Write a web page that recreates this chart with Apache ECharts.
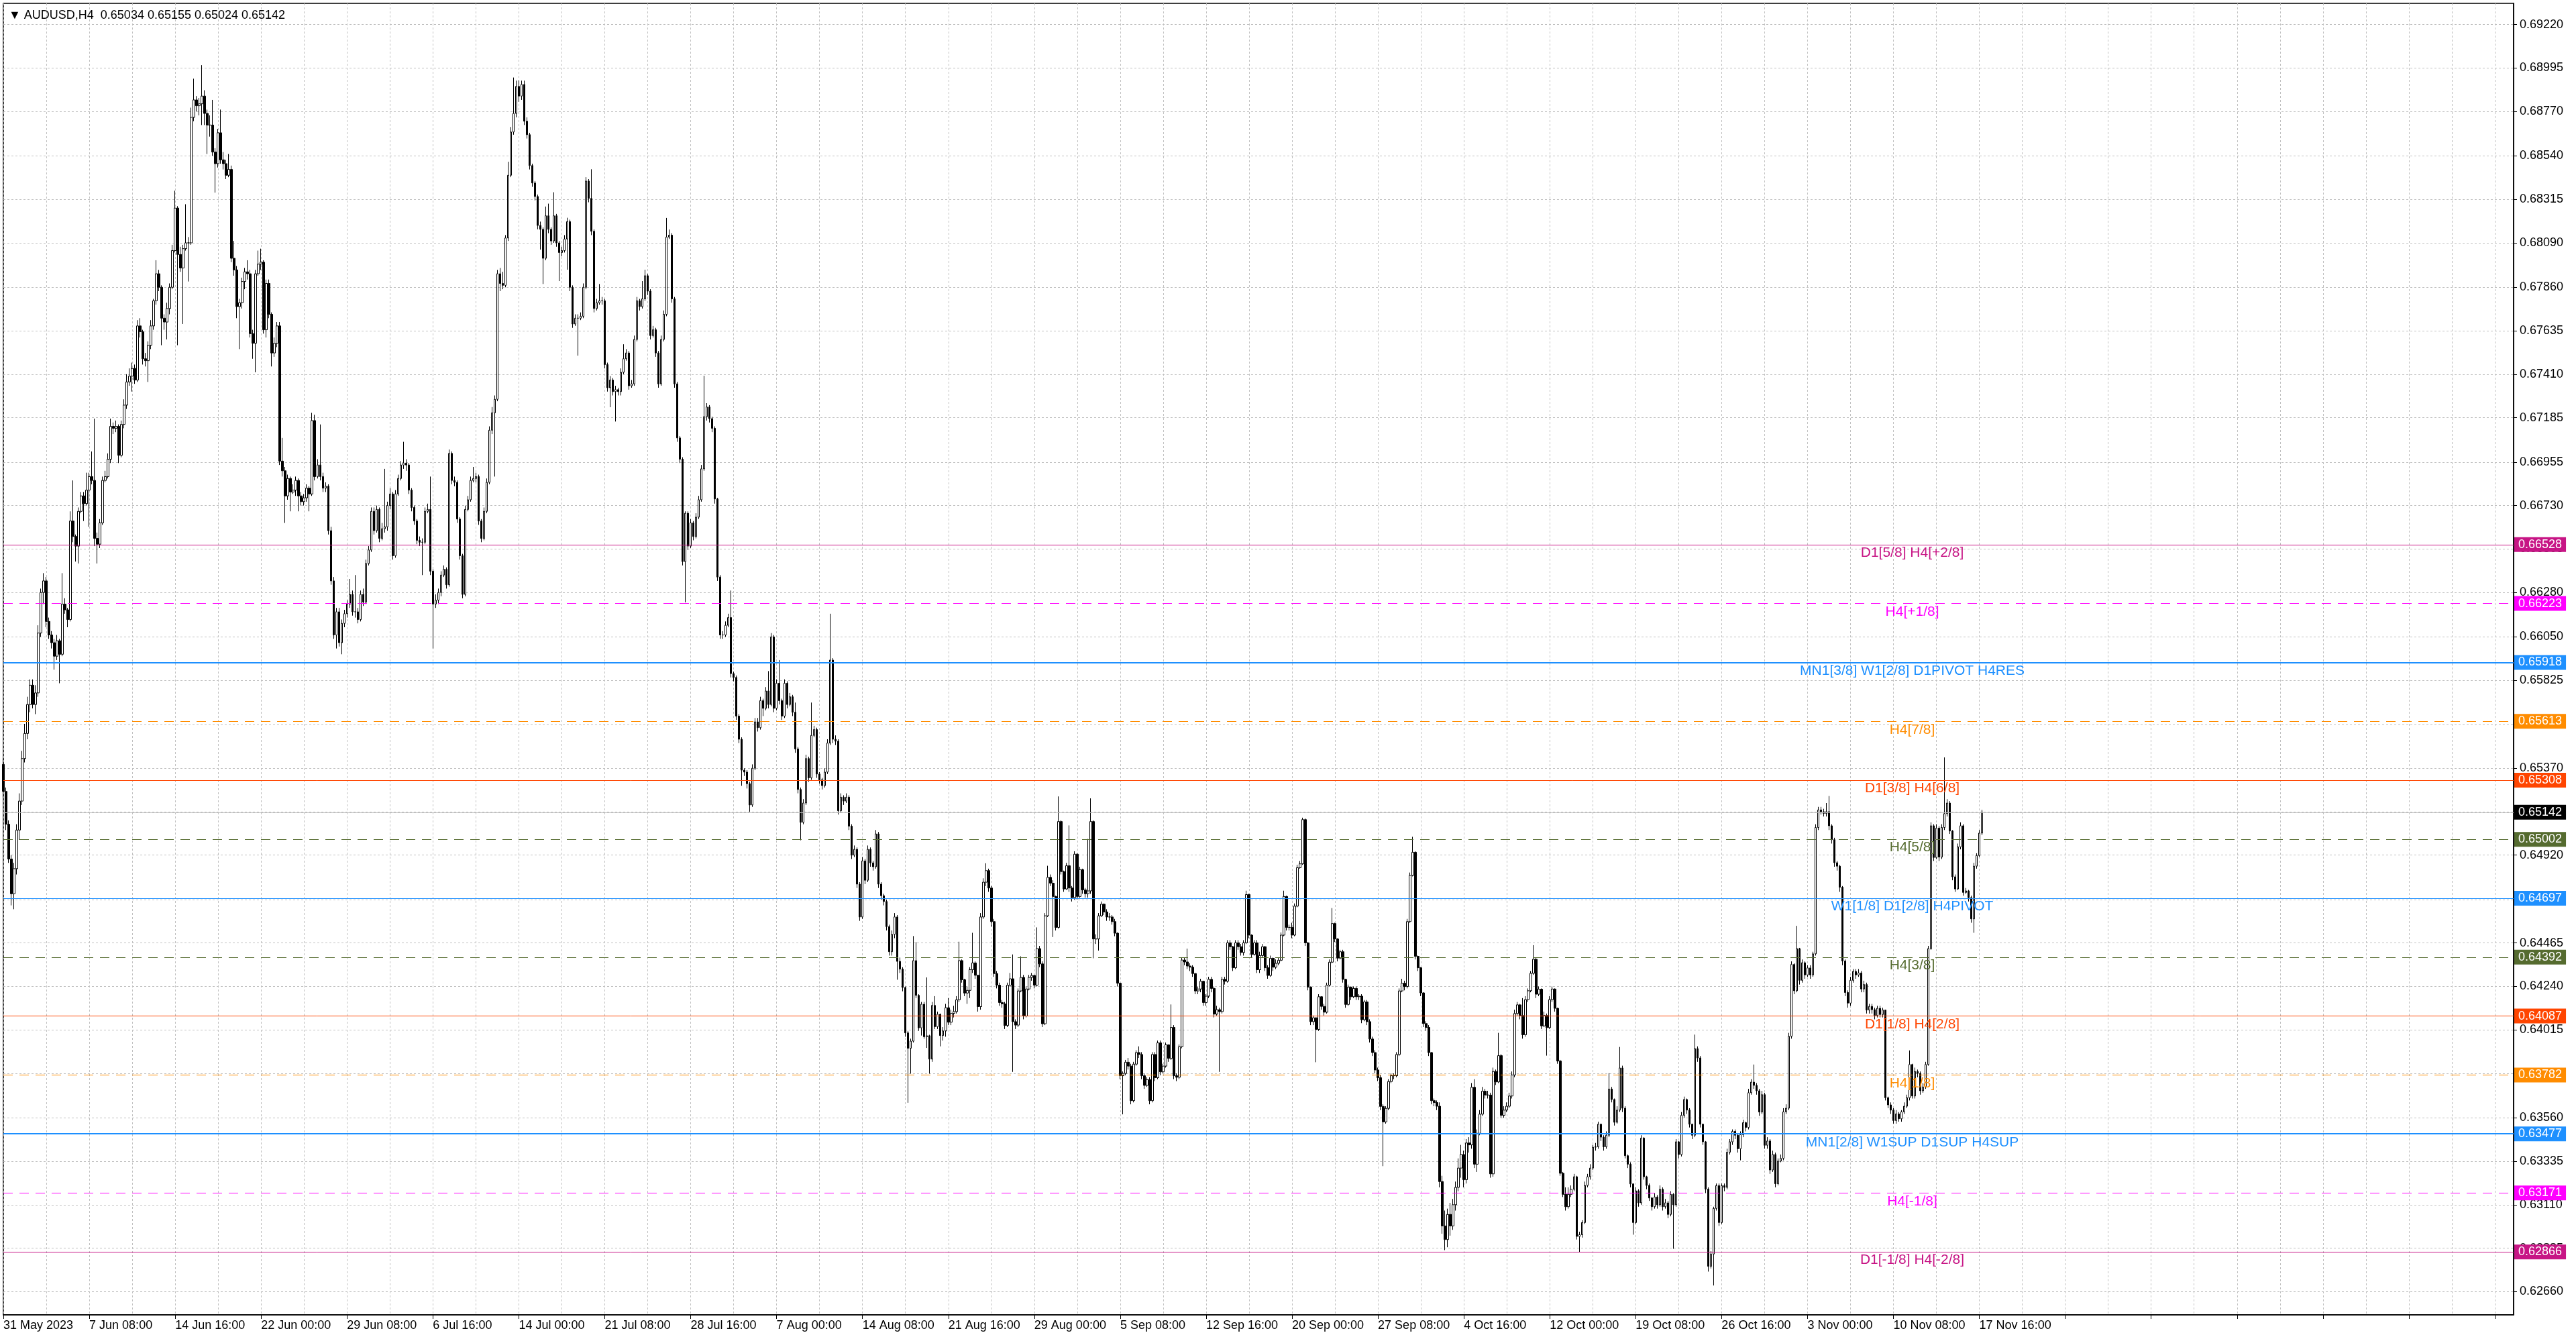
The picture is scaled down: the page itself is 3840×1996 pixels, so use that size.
<!DOCTYPE html>
<html>
<head>
<meta charset="utf-8">
<title>AUDUSD,H4</title>
<script src="https://cdn.jsdelivr.net/npm/echarts@6/dist/echarts.min.js"></script>
<style>
  html, body { margin: 0; padding: 0; background: #fff; }
  #chart { width: 3840px; height: 1996px; }
</style>
</head>
<body>
<div id="chart"></div>
<script>
// H4 bars, four numbers per bar: open, close, low, high
// each number n stands for the price 0.6 + n / 100000
var barsMay = [
  5390,5250,5220,5420, 5250,5080,5050,5270, 5080,4900,4880,5100, 4900,4720,4660,4920, 4720,4850,4640,4880, 4850,5050,4820,5080
];
var barsJun = [
  5050,5200,5000,5240, 5200,5420,5180,5460, 5420,5550,5400,5600, 5550,5700,5520,5740, 5700,5800,5660,5830, 5800,5700,5680,5830,
  5700,5760,5650,5800, 5760,6070,5740,6110, 6070,6280,6050,6300, 6280,6340,6220,6380, 6340,6130,6100,6360, 6130,6060,6040,6150,
  6060,6020,5990,6080, 6020,5950,5880,6040, 5950,6030,5930,6060, 6030,5960,5810,6040, 5960,6220,5950,6380, 6220,6190,6170,6250,
  6190,6140,6100,6200, 6140,6650,6130,6700, 6650,6570,6540,6860, 6570,6520,6440,6580, 6520,6700,6430,6720, 6700,6780,6690,6800,
  6780,6740,6650,6800, 6740,6810,6730,6900, 6810,6880,6620,6900, 6880,6860,6840,7010, 6860,6560,6520,7180, 6560,6530,6430,6590,
  6530,6640,6510,6660, 6640,6860,6630,6880, 6860,6880,6850,6910, 6880,6970,6870,7000, 6970,7140,6950,7180, 7140,7130,7100,7160,
  7130,7140,7110,7170, 7140,6990,6950,7150, 6990,7150,6980,7170, 7150,7250,7130,7280, 7250,7370,7230,7410, 7370,7400,7350,7440,
  7400,7440,7320,7470, 7440,7380,7360,7460, 7380,7660,7370,7690, 7660,7630,7600,7700, 7630,7490,7460,7640, 7490,7480,7450,7520,
  7480,7560,7370,7580, 7560,7660,7540,7690, 7660,7790,7640,7800, 7790,7930,7770,8000, 7930,7860,7840,7950, 7860,7700,7560,7870,
  7700,7680,7640,7720, 7680,7750,7590,7780, 7750,7860,7720,7880, 7860,8050,7850,8080, 8050,8270,8040,8360, 8270,8030,7560,8280,
  8030,7960,7940,8070, 7960,8060,7670,8080, 8060,8090,8050,8290, 8090,8090,7890,8120, 8090,8740,8080,8790, 8740,8830,8720,8940,
  8830,8800,8770,8850, 8800,8810,8750,8840, 8810,8850,8700,9010, 8850,8760,8700,8880, 8760,8700,8550,8780, 8700,8700,8640,8750,
  8700,8560,8540,8830, 8560,8500,8350,8580, 8500,8660,8480,8680, 8660,8520,8500,8780, 8520,8500,8470,8560, 8500,8440,8420,8520,
  8440,8470,8430,8550, 8470,8010,7990,8490, 8010,7950,7920,8100, 7950,7760,7700,7970, 7760,7780,7540,7800, 7780,7890,7750,7910,
  7890,7940,7850,7960, 7940,7930,7900,8000, 7930,7620,7600,7950, 7620,7570,7490,7640, 7570,7930,7420,7950, 7930,7980,7920,8050,
  7980,7990,7950,8060, 7990,7640,7620,8000, 7640,7880,7600,7900, 7880,7720,7700,7900, 7720,7520,7450,7730, 7520,7570,7500,7600,
  7570,7660,7550,7680, 7660,6960,6940,7680, 6960,6910,6880,7080, 6910,6780,6640,6930, 6780,6870,6760,6890, 6870,6800,6700,6880,
  6800,6810,6790,6840, 6810,6860,6780,6880, 6860,6780,6700,6870, 6780,6750,6730,6800, 6750,6770,6730,6790, 6770,6820,6750,6840,
  6820,6790,6700,6830, 6790,7170,6780,7210, 7170,6880,6860,7200, 6880,6940,6870,6970, 6940,6880,6860,7150, 6880,6820,6800,6900,
  6820,6830,6800,6850, 6830,6600,6580,6840, 6600,6340,6320,6620, 6340,6060,6040,6360, 6060,6180,5990,6200, 6180,6020,6000,6200,
  6020,6120,5960,6140, 6120,6170,6100,6190, 6170,6220,6150,6240, 6220,6270,6200,6350, 6270,6180,6160,6290, 6180,6180,6150,6370,
  6180,6140,6120,6200, 6140,6270,6130,6290, 6270,6230,6210,6300, 6230,6430,6220,6450, 6430,6500,6420,6520, 6500,6700,6490,6720
];
var barsJul = [
  6700,6600,6580,6720, 6600,6710,6590,6730, 6710,6560,6540,6720, 6560,6610,6550,6640, 6610,6620,6590,6920, 6620,6730,6600,6750,
  6730,6790,6710,6820, 6790,6470,6450,6800, 6470,6790,6460,6810, 6790,6870,6780,6890, 6870,6940,6860,6960, 6940,6950,6920,7060,
  6950,6940,6910,6970, 6940,6810,6790,6950, 6810,6720,6700,6820, 6720,6650,6630,6730, 6650,6550,6530,6660, 6550,6540,6520,6570,
  6540,6540,6370,6560, 6540,6700,6530,6720, 6700,6710,6690,6740, 6710,6390,6370,6880, 6390,6220,5990,6400, 6220,6240,6200,6270,
  6240,6280,6220,6300, 6280,6370,6260,6390, 6370,6400,6360,6420, 6400,6320,6300,6410, 6320,7000,6310,7020, 7000,6860,6840,7010,
  6860,6850,6830,6880, 6850,6660,6640,6860, 6660,6470,6450,6670, 6470,6270,6250,6480, 6270,6710,6260,6730, 6710,6760,6700,6780,
  6760,6860,6750,6880, 6860,6870,6850,6930, 6870,6880,6850,6900, 6880,6650,6630,6890, 6650,6560,6540,6660, 6560,6700,6550,6720,
  6700,6850,6690,6870, 6850,7120,6840,7140, 7120,7210,7100,7240, 7210,7280,6880,7300, 7280,7930,7270,7950, 7930,7880,7840,7960,
  7880,7870,7850,7940, 7870,8115,7860,8130, 8115,8440,8100,8510, 8440,8664,8430,8690, 8664,8760,8650,8946, 8760,8900,8740,8930,
  8900,8850,8820,8931, 8850,8910,8830,8930, 8910,8720,8700,8930, 8720,8650,8630,8740, 8650,8490,8470,8660, 8490,8400,8380,8500,
  8400,8330,8310,8410, 8330,8180,8160,8340, 8180,8160,8055,8200, 8160,8010,7877,8170, 8010,8230,8000,8278, 8230,8160,8140,8293,
  8160,8100,8080,8170, 8100,8230,8090,8352, 8230,8090,8070,8240, 8090,8040,7892,8100, 8040,8050,8020,8070, 8050,8110,8040,8130,
  8110,8200,7951,8220, 8200,7860,7840,8210, 7860,7670,7650,7870, 7670,7700,7660,7720, 7700,7700,7506,7720, 7700,7710,7690,7730,
  7710,7860,7700,7880, 7860,8410,7850,8430, 8410,8320,8300,8420, 8320,8150,8130,8471, 8150,7750,7730,8160, 7750,7780,7740,7800,
  7780,7790,7770,7877, 7790,7790,7770,7810, 7790,7460,7440,7800, 7460,7340,7320,7470, 7340,7380,7239,7400, 7380,7320,7300,7390,
  7320,7330,7165,7350, 7330,7320,7300,7340, 7320,7420,7300,7440, 7420,7490,7410,7565, 7490,7520,7480,7540, 7520,7350,7330,7530,
  7350,7360,7340,7380, 7360,7590,7350,7610, 7590,7790,7580,7810, 7790,7760,7740,7800, 7760,7800,7750,7892, 7800,7920,7790,7951,
  7920,7840,7820,7930, 7840,7610,7590,7850, 7610,7640,7600,7660, 7640,7520,7500,7650, 7520,7360,7340,7530, 7360,7590,7350,7610,
  7590,7720,7580,7740, 7720,8120,7710,8219, 8120,8130,8110,8159, 8130,7800,7780,8140, 7800,7360,7340,7810, 7360,7080,7060,7370,
  7080,6970,6950,7090, 6970,6440,6420,6980, 6440,6690,6229,6700, 6690,6520,6500,6700, 6520,6640,6510,6660, 6640,6570,6550,6650,
  6570,6670,6560,6690, 6670,6760,6660,6780, 6760,6920,6750,6940, 6920,7190,6910,7402, 7190,7240,7170,7260, 7240,7180,7160,7250
];
var barsAug = [
  7180,7130,7110,7190, 7130,6764,6740,7140, 6764,6360,6340,6770, 6360,6060,6040,6370, 6060,6060,6040,6080, 6060,6110,6050,6130,
  6110,6150,6100,6170, 6150,5860,5840,6290, 5860,5840,5820,5870, 5840,5640,5620,5850, 5640,5520,5500,5650, 5520,5360,5279,5530,
  5360,5350,5330,5370, 5350,5290,5265,5360, 5290,5180,5145,5300, 5180,5370,5170,5390, 5370,5610,5360,5630, 5610,5580,5560,5630,
  5580,5720,5570,5740, 5720,5680,5640,5730, 5680,5770,5670,5790, 5770,5700,5680,5873, 5700,6050,5690,6070, 6050,5680,5660,6060,
  5680,5810,5670,5830, 5810,5720,5700,5930, 5720,5640,5620,5730, 5640,5810,5630,5830, 5810,5700,5680,5820, 5700,5740,5690,5760,
  5740,5660,5640,5750, 5660,5470,5450,5710, 5470,5260,5240,5480, 5260,5090,4997,5270, 5090,5190,5080,5210, 5190,5420,5180,5440,
  5420,5320,5300,5430, 5320,5540,5310,5710, 5540,5570,5530,5590, 5570,5340,5320,5580, 5340,5310,5290,5350, 5310,5280,5260,5320,
  5280,5350,5270,5370, 5350,5500,5340,5520, 5500,5930,5490,6170, 5930,5520,5500,5940, 5520,5510,5490,5540, 5510,5150,5130,5520,
  5150,5220,5140,5240, 5220,5200,5180,5230, 5200,5220,5190,5240, 5220,5070,5050,5230, 5070,4920,4900,5080, 4920,4950,4910,4970,
  4950,4770,4750,4960, 4770,4600,4580,4780, 4600,4890,4590,4910, 4890,4790,4770,4900, 4790,4950,4780,4970, 4950,4880,4860,4960,
  4880,4860,4840,4890, 4860,5030,4850,5050, 5030,4770,4750,5040, 4770,4710,4690,4780, 4710,4680,4660,4720, 4680,4550,4530,4690,
  4550,4420,4400,4560, 4420,4510,4400,4530, 4510,4600,4490,4620, 4600,4370,4275,4610, 4370,4330,4310,4390, 4330,4235,4215,4340,
  4235,4000,3980,4240, 4000,3920,3638,4010, 3920,3957,3789,3970, 3957,4374,3950,4501, 4374,4194,4180,4470, 4194,4026,4010,4200,
  4026,4148,3986,4160, 4148,3980,3970,4160, 3980,3985,3922,4287, 3985,3864,3789,3990, 3864,4142,3850,4160, 4142,4032,4020,4190,
  4032,4096,4020,4110, 4096,3986,3930,4100, 3986,4010,3960,4030, 4010,4130,3980,4150, 4130,4055,4040,4180, 4055,4101,4040,4120,
  4101,4110,4080,4140, 4110,4171,4100,4190, 4171,4374,4160,4472, 4374,4275,4260,4380, 4275,4206,4190,4280, 4206,4220,4150,4240,
  4220,4327,4180,4340, 4327,4362,4310,4518, 4362,4298,4280,4370, 4298,4136,4110,4300, 4136,4600,4120,4620, 4600,4780,4590,4800,
  4780,4840,4760,4878, 4840,4750,4730,4850, 4750,4576,4550,4760, 4576,4307,4290,4590, 4307,4247,4230,4320, 4247,4157,4140,4260,
  4157,4150,4130,4170, 4150,4038,4020,4160, 4038,4247,4030,4260, 4247,4280,4240,4310, 4280,4058,3798,4406, 4058,4040,4020,4070,
  4040,4217,4030,4230, 4217,4287,4210,4396, 4287,4087,4070,4300, 4087,4227,4080,4240, 4227,4287,4220,4300, 4287,4297,4270,4310,
  4297,4247,4230,4300, 4247,4436,4240,4546, 4436,4357,4340,4450, 4357,4047,4030,4370, 4047,4606,4040,4620, 4606,4805,4600,4865,
  4805,4775,4760,4820, 4775,4706,4496,4790, 4706,4546,4530,4710, 4546,5094,4540,5224, 5094,4835,4820,5100, 4835,4745,4730,4840,
  4745,4865,4740,4880, 4865,4750,4730,5074, 4750,4700,4680,4760, 4700,4925,4690,4940, 4925,4706,4690,4930, 4706,4845,4700,4860
];
var barsSep = [
  4845,4740,4720,4850, 4740,4720,4700,4750, 4720,4735,4700,5004, 4735,5094,4720,5214, 5094,4486,4386,5100, 4486,4486,4460,4510,
  4486,4606,4426,4620, 4606,4666,4600,4680, 4666,4626,4610,4670, 4626,4600,4580,4640, 4600,4600,4580,4620, 4600,4576,4560,4610,
  4576,4516,4500,4590, 4516,4257,4240,4520, 4257,3778,3760,4260, 3778,3790,3578,3800, 3790,3848,3780,3860, 3848,3828,3810,3870,
  3828,3649,3630,3840, 3649,3838,3640,3850, 3838,3898,3830,3910, 3898,3888,3870,3930, 3888,3778,3760,3900, 3778,3728,3710,3790,
  3728,3758,3720,3770, 3758,3649,3630,3770, 3649,3888,3640,3900, 3888,3768,3750,3900, 3768,3948,3760,3960, 3948,3798,3780,3960,
  3798,3828,3790,3840, 3828,3938,3820,3950, 3938,3868,3850,3940, 3868,4028,3860,4147, 4028,3778,3760,4040, 3778,3770,3750,3790,
  3770,3928,3760,3940, 3928,4377,3920,4390, 4377,4367,4350,4390, 4367,4346,4330,4436, 4346,4340,4320,4360, 4340,4307,4290,4350,
  4307,4217,4200,4310, 4217,4227,4200,4240, 4227,4267,4210,4280, 4267,4157,4140,4270, 4157,4190,4140,4200, 4190,4277,4180,4290,
  4277,4230,4210,4290, 4230,4097,4080,4240, 4097,4120,4090,4140, 4120,4110,3798,4130, 4110,4277,4100,4290, 4277,4267,4250,4290,
  4267,4466,4260,4480, 4466,4446,4430,4480, 4446,4337,4320,4450, 4337,4466,4330,4480, 4466,4446,4430,4480, 4446,4416,4400,4460,
  4416,4466,4400,4480, 4466,4716,4460,4736, 4716,4506,4490,4720, 4506,4406,4390,4510, 4406,4466,4400,4480, 4466,4327,4310,4480,
  4327,4400,4310,4420, 4400,4446,4390,4460, 4446,4337,4320,4450, 4337,4297,4280,4350, 4297,4386,4290,4400, 4386,4340,4320,4390,
  4340,4360,4330,4380, 4360,4376,4350,4390, 4376,4506,4370,4520, 4506,4706,4500,4736, 4706,4546,4530,4710, 4546,4546,4530,4560,
  4546,4506,4490,4570, 4506,4656,4500,4670, 4656,4855,4650,4870, 4855,4875,4850,4890, 4875,5104,4870,5114, 5104,4466,4450,5110,
  4466,4237,4220,4470, 4237,4058,4040,4240, 4058,4078,4040,4090, 4078,4018,3848,4080, 4018,4187,4010,4200, 4187,4137,4120,4190,
  4137,4107,4090,4150, 4107,4247,4100,4260, 4247,4366,4240,4380, 4366,4566,4360,4646, 4566,4486,4470,4570, 4486,4387,4370,4490,
  4387,4420,4380,4430, 4420,4277,4260,4430, 4277,4147,4130,4280, 4147,4237,4140,4250, 4237,4187,4170,4240, 4187,4230,4180,4240,
  4230,4187,4170,4240, 4187,4190,4170,4200, 4190,4068,4050,4200, 4068,4160,4060,4170, 4160,4058,4040,4170, 4058,3968,3950,4070,
  3968,3898,3880,3980, 3898,3808,3790,3910, 3808,3768,3750,3820, 3768,3619,3600,3780, 3619,3539,3310,3630, 3539,3609,3530,3620,
  3609,3748,3600,3760, 3748,3778,3740,3790, 3778,3778,3760,3790, 3778,3888,3770,3900, 3888,4217,3880,4230, 4217,4257,4210,4280,
  4257,4240,4220,4270, 4240,4576,4230,4590, 4576,4815,4570,4830, 4815,4935,4810,5015, 4935,4396,4380,4940, 4396,4337,4320,4400
];
var barsOct = [
  4337,4207,4190,4340, 4207,4048,4030,4210, 4048,4028,4010,4060, 4028,3898,3880,4040, 3898,3649,3630,3900, 3649,3639,3620,3660,
  3639,3620,3600,3650, 3620,3230,3200,3640, 3230,3000,2960,3260, 3000,2930,2875,3080, 2930,3060,2890,3090, 3060,3000,2950,3120,
  3000,3110,2980,3140, 3110,3200,3080,3230, 3200,3300,3180,3350, 3300,3370,3250,3420, 3370,3240,3200,3390, 3240,3430,3220,3450,
  3430,3420,3380,3460, 3420,3718,3400,3740, 3718,3320,3300,3760, 3320,3480,3280,3500, 3480,3579,3470,3600, 3579,3698,3570,3720,
  3698,3678,3660,3710, 3678,3678,3660,3700, 3678,3270,3250,3690, 3270,3800,3255,3820, 3800,3746,3730,3810, 3746,3882,3740,4000,
  3882,3573,3560,3890, 3573,3600,3560,3620, 3600,3620,3590,3640, 3620,3673,3610,3690, 3673,3782,3660,3800, 3782,4100,3770,4120,
  4100,4145,4090,4160, 4145,4090,4070,4150, 4090,3990,3970,4180, 3990,4172,3980,4190, 4172,4218,4160,4230, 4218,4308,4210,4320,
  4308,4381,4300,4454, 4381,4200,4180,4390, 4200,4226,4190,4240, 4226,4036,4020,4230, 4036,4090,4030,4110, 4090,4027,3882,4100,
  4027,4172,4020,4190, 4172,4227,4160,4240, 4227,4127,4110,4230, 4127,3854,3840,4130, 3854,3273,3260,3860, 3273,3164,3150,3280,
  3164,3100,3080,3200, 3100,3164,3090,3200, 3164,3190,3150,3210, 3190,3255,3180,3270, 3255,2946,2930,3260, 2946,2955,2864,2970,
  2955,3018,2940,3030, 3018,3210,3010,3230, 3210,3255,3200,3270, 3255,3300,3240,3320, 3300,3408,3290,3420, 3408,3410,3390,3430,
  3410,3527,3400,3540, 3527,3460,3440,3530, 3460,3410,3390,3470, 3410,3470,3400,3490, 3470,3709,3460,3791, 3709,3655,3640,3720,
  3655,3537,3520,3660, 3537,3600,3530,3620, 3600,3818,3590,3927, 3818,3610,3590,3830, 3610,3364,3350,3620, 3364,3320,3300,3370,
  3320,3218,3200,3330, 3218,3018,2955,3220, 3018,3182,3010,3200, 3182,3120,3100,3190, 3120,3455,3110,3470, 3455,3255,3240,3460,
  3255,3210,3190,3260, 3210,3145,3130,3220, 3145,3100,3080,3150, 3100,3150,3090,3170, 3150,3110,3090,3160, 3110,3190,3100,3210,
  3190,3100,3080,3200, 3100,3120,3090,3140, 3120,3060,3040,3130, 3060,3164,3050,3180, 3164,3110,2882,3170, 3110,3436,3100,3450,
  3436,3370,3350,3440, 3370,3573,3360,3590, 3573,3655,3560,3670, 3655,3600,3580,3660, 3600,3527,3510,3610, 3527,3470,3450,3530,
  3470,3918,3460,3991, 3918,3870,3850,3930, 3870,3527,3510,3880, 3527,3436,3420,3530, 3436,3191,3170,3440, 3191,2791,2764,3200,
  2791,2855,2780,2870, 2855,3091,2692,3100, 3091,3209,3080,3220, 3209,3018,3000,3220, 3018,3209,3010,3220, 3209,3200,3180,3220,
  3200,3382,3190,3400, 3382,3436,3370,3450, 3436,3490,3420,3500, 3490,3470,3450,3500, 3470,3400,3380,3480, 3400,3473,3340,3490,
  3473,3535,3460,3550, 3535,3510,3490,3540, 3510,3690,3500,3710, 3690,3745,3680,3760, 3745,3728,3710,3836, 3728,3700,3680,3740,
  3700,3590,3570,3710, 3590,3680,3580,3700, 3680,3418,3400,3690, 3418,3440,3400,3460, 3440,3290,3270,3450, 3290,3370,3280,3390
];
var barsNov = [
  3370,3219,3200,3380, 3219,3336,3210,3350, 3336,3350,3330,3370, 3350,3591,3340,3610, 3591,3610,3580,3630, 3610,3982,3600,4000,
  3982,4354,3970,4370, 4354,4218,4200,4360, 4218,4436,4210,4554, 4436,4272,4250,4440, 4272,4363,4260,4380, 4363,4300,4280,4370,
  4300,4336,4290,4350, 4336,4300,4280,4350, 4300,4409,4290,4420, 4409,5063,4400,5080, 5063,5154,5050,5170, 5154,5145,5130,5170,
  5145,5136,5120,5160, 5136,5145,5120,5190, 5145,5072,5050,5226, 5072,5000,4980,5080, 5000,4881,4860,5010, 4881,4863,4840,4890,
  4863,4754,4730,4870, 4754,4372,4350,4760, 4372,4209,4190,4380, 4209,4154,4130,4220, 4154,4272,4140,4290, 4272,4318,4260,4330,
  4318,4300,4280,4330, 4300,4310,4290,4330, 4310,4227,4210,4320, 4227,4250,4210,4270, 4250,4118,4100,4260, 4118,4137,4100,4150,
  4137,4120,4100,4150, 4120,4090,4070,4130, 4090,4127,4080,4140, 4127,4095,4080,4140, 4095,4118,4080,4130, 4118,3664,3650,4120,
  3664,3627,3610,3670, 3627,3600,3580,3640, 3600,3546,3530,3610, 3546,3580,3530,3600, 3580,3555,3540,3590, 3555,3591,3540,3600,
  3591,3620,3580,3640, 3620,3664,3610,3680, 3664,3836,3650,3909, 3836,3673,3660,3840, 3673,3800,3660,3820, 3800,3790,3770,3810,
  3790,3700,3680,3800, 3700,3720,3690,3740, 3720,3836,3710,3850, 3836,4436,3830,4450, 4436,5072,4430,5090, 5072,4908,4890,5080,
  4908,5060,4900,5080, 5060,4910,4890,5070, 4910,5063,4900,5080, 5063,5135,5050,5426, 5135,5190,5120,5210, 5190,5045,5030,5200,
  5045,4808,4790,5050, 4808,4745,4730,4820, 4745,4963,4740,4980, 4963,5072,4950,5090, 5072,4727,4710,5080, 4727,4735,4720,4750,
  4735,4700,4680,4740, 4700,4590,4570,4710, 4590,4863,4518,4880, 4863,4918,4850,4930, 4918,5034,4910,5050, 5034,5142,5024,5155
];

var timeLabels = [
  '31 May 2023', '7 Jun 08:00', '14 Jun 16:00', '22 Jun 00:00', '29 Jun 08:00', '6 Jul 16:00',
  '14 Jul 00:00', '21 Jul 08:00', '28 Jul 16:00', '7 Aug 00:00', '14 Aug 08:00', '21 Aug 16:00',
  '29 Aug 00:00', '5 Sep 08:00', '12 Sep 16:00', '20 Sep 00:00', '27 Sep 08:00', '4 Oct 16:00',
  '12 Oct 00:00', '19 Oct 08:00', '26 Oct 16:00', '3 Nov 00:00', '10 Nov 08:00', '17 Nov 16:00'
];

var priceTicks = [
  0.69220, 0.68995, 0.68770, 0.68540, 0.68315, 0.68090, 0.67860, 0.67635, 0.67410, 0.67185,
  0.66955, 0.66730, 0.66505, 0.66280, 0.66050, 0.65825, 0.65595, 0.65370, 0.65145, 0.64920,
  0.64690, 0.64465, 0.64240, 0.64015, 0.63790, 0.63560, 0.63335, 0.63110, 0.62885, 0.62660
];

var levelValues = [0.66528, 0.66223, 0.65918, 0.65613, 0.65308, 0.65002, 0.64697,
                   0.64392, 0.64087, 0.63782, 0.63477, 0.63171, 0.62866];
var levelNames = [
  'D1[5/8] H4[+2/8]', 'H4[+1/8]', 'MN1[3/8] W1[2/8] D1PIVOT H4RES', 'H4[7/8]', 'D1[3/8] H4[6/8]',
  'H4[5/8]', 'W1[1/8] D1[2/8] H4PIVOT', 'H4[3/8]', 'D1[1/8] H4[2/8]', 'H4[1/8]',
  'MN1[2/8] W1SUP D1SUP H4SUP', 'H4[-1/8]', 'D1[-1/8] H4[-2/8]'
];
var levelColors = ['#c71585', '#ff00ff', '#1e90ff', '#ff8c00', '#ff4500', '#556b2f', '#1e90ff',
                   '#556b2f', '#ff4500', '#ff8c00', '#1e90ff', '#ff00ff', '#c71585'];
var levelDashed = [false, true, false, true, false, true, false, true, false, true, false, true, false];
var levelWidths = [1, 1, 2, 1, 1, 1, 1, 1, 1, 1, 2, 1, 1];

var bidPrice = 0.65142;
var headerText = '\u25BC AUDUSD,H4  0.65034 0.65155 0.65024 0.65142';

var slotCount = 936;   // bar slots across the plot, the right part stays empty
var tagCenter = 711;   // slot where the level names are centred

var fontName = '"Liberation Sans", Arial, sans-serif';

var allBars = [].concat(barsMay, barsJun, barsJul, barsAug, barsSep, barsOct, barsNov);
var candles = [];
for (var i = 0; i < allBars.length; i += 4) {
  candles.push([
    (60000 + allBars[i]) / 1e5,
    (60000 + allBars[i + 1]) / 1e5,
    (60000 + allBars[i + 2]) / 1e5,
    (60000 + allBars[i + 3]) / 1e5
  ]);
}

var slots = [];
for (var s = 0; s < slotCount; s++) slots.push(String(s));

var lines = [];
var tags = [];
levelValues.forEach(function (v, k) {
  var c = levelColors[k];
  lines.push({
    yAxis: v,
    lineStyle: { color: c, width: levelWidths[k], type: levelDashed[k] ? [14, 10] : 'solid' },
    label: {
      show: true, position: 'end', distance: 1,
      formatter: v.toFixed(5),
      backgroundColor: c, color: '#fff', padding: [2, 6],
      fontSize: 18, fontFamily: fontName
    }
  });
  tags.push([
    {
      coord: [String(tagCenter - 50), v],
      lineStyle: { color: 'rgba(0,0,0,0)', width: 0 },
      label: {
        show: true, position: 'insideMiddleBottom', distance: 2,
        formatter: levelNames[k], color: c, fontSize: 21, fontFamily: fontName
      }
    },
    { coord: [String(tagCenter + 50), v] }
  ]);
});
lines.push({
  yAxis: bidPrice,
  lineStyle: { color: '#c0c0c0', width: 1, type: 'solid' },
  label: {
    show: true, position: 'end', distance: 1,
    formatter: bidPrice.toFixed(5),
    backgroundColor: '#000', color: '#fff', padding: [2, 6],
    fontSize: 18, fontFamily: fontName
  }
});

var chart = echarts.init(document.getElementById('chart'));
chart.setOption({
  animation: false,
  backgroundColor: '#fff',
  title: {
    text: headerText, left: 8, top: 9,
    textStyle: { fontSize: 18, fontWeight: 'normal', color: '#000', fontFamily: fontName }
  },
  grid: {
    left: 5, right: 93, top: 5, bottom: 36,
    show: true, borderColor: '#000', borderWidth: 1.5,
    outerBoundsMode: 'none'
  },
  xAxis: {
    type: 'category',
    data: slots,
    boundaryGap: false,
    axisLine: { lineStyle: { color: '#000', width: 1.5 } },
    axisTick: {
      show: true, length: 6,
      interval: function (idx) { return idx % 32 === 0; },
      lineStyle: { color: '#000' }
    },
    axisLabel: {
      interval: function (idx) { return idx % 32 === 0 && idx / 32 < timeLabels.length; },
      formatter: function (val, idx) { return timeLabels[Math.round(idx / 32)] || ''; },
      align: 'left', margin: 7, color: '#000', fontSize: 18, fontFamily: fontName
    },
    splitLine: {
      show: true,
      interval: function (idx) { return idx % 16 === 0; },
      lineStyle: { color: '#c0c0c0', width: 1, type: [3, 3] }
    }
  },
  yAxis: {
    type: 'value',
    position: 'right',
    min: 0.62540, max: 0.69330,
    axisLine: { show: true, lineStyle: { color: '#000', width: 1.5 } },
    axisTick: { show: true, length: 5, customValues: priceTicks, lineStyle: { color: '#000' } },
    axisLabel: {
      customValues: priceTicks,
      formatter: function (v) { return v.toFixed(5); },
      margin: 9, color: '#000', fontSize: 18, fontFamily: fontName
    },
    splitLine: { show: true, lineStyle: { color: '#c0c0c0', width: 1, type: [3, 3] } }
  },
  series: [
    {
      type: 'line',
      data: [],
      z: 1,
      markLine: {
        silent: true, animation: false, precision: 5,
        symbol: ['none', 'none'],
        data: lines
      }
    },
    {
      type: 'line',
      data: [],
      z: 4,
      markLine: {
        silent: true, animation: false, precision: 5,
        symbol: ['none', 'none'],
        data: tags
      }
    },
    {
      type: 'candlestick',
      data: candles,
      barWidth: 3,
      large: false,
      z: 3,
      itemStyle: {
        color: '#fff', color0: '#000',
        borderColor: '#000', borderColor0: '#000', borderColorDoji: '#000',
        borderWidth: 1
      }
    }
  ]
});
</script>
</body>
</html>
